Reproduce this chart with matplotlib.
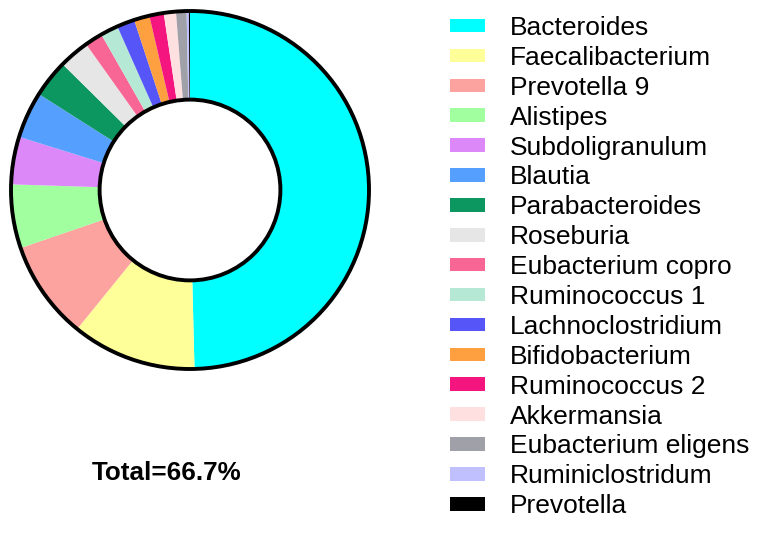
import matplotlib
matplotlib.use("Agg")
import matplotlib.pyplot as plt
from matplotlib.patches import Patch, Circle

plt.rcParams['font.family'] = ['Liberation Sans', 'DejaVu Sans']

genera = ["Bacteroides", "Faecalibacterium", "Prevotella 9", "Alistipes",
          "Subdoligranulum", "Blautia", "Parabacteroides", "Roseburia",
          "Eubacterium copro", "Ruminococcus 1", "Lachnoclostridium",
          "Bifidobacterium", "Ruminococcus 2", "Akkermansia",
          "Eubacterium eligens", "Ruminiclostridum", "Prevotella"]
shares = [49.6, 11.25, 8.9, 5.75, 4.3, 4.2, 3.4, 2.75, 1.6, 1.6, 1.6,
          1.4, 1.3, 1.1, 0.95, 0.2, 0.1]
colors = ["#00FFFF", "#FFFF99", "#FCA3A0", "#A2FFA0", "#DD88F8", "#559FFF",
          "#0C9660", "#E6E6E6", "#F76695", "#B6E8D6", "#5555F8", "#FFA040",
          "#F5157F", "#FFE0E0", "#A0A0A8", "#C0C0FF", "#000000"]
total_label = "Total=66.7%"

W, H = 758, 534
fig = plt.figure(figsize=(W / 100, H / 100), dpi=100)

cx, cy, r = 190, 190, 179
ax = fig.add_axes([(cx - r) / W, (H - cy - r) / H, 2 * r / W, 2 * r / H])
ax.pie(shares, colors=colors, startangle=90, counterclock=False,
       radius=1, wedgeprops=dict(width=0.495, edgecolor='none', linewidth=0))
ax.add_patch(Circle((0, 0), 1, fill=False, edgecolor='black', lw=2.8,
                    zorder=5, clip_on=False))
ax.add_patch(Circle((0, 0), 0.505, fill=False, edgecolor='black', lw=2.8,
                    zorder=5, clip_on=False))
ax.set_xlim(-1, 1)
ax.set_ylim(-1, 1)
ax.set_aspect('equal')
ax.axis('off')

fig.text(167 / W, 1 - 480 / H, total_label, ha='center', va='baseline',
         fontsize=18.7, fontweight='bold')

handles = [Patch(facecolor=c, edgecolor='none') for c in colors]
fs = 19
fig.legend(handles, genera, loc='upper left',
           bbox_to_anchor=(450 / W, 1 - 16 / H), frameon=False,
           fontsize=fs, borderpad=0, borderaxespad=0,
           handlelength=35 / 26.4, handleheight=11 / 26.4,
           handletextpad=25 / 26.4, labelspacing=0.223)

fig.savefig("out.png", dpi=100)
